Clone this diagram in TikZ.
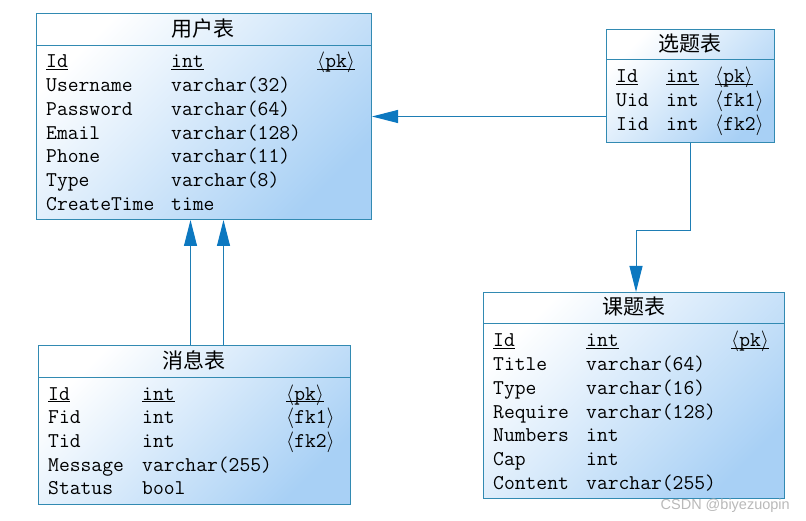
\documentclass[tikz,border=0pt]{standalone}
\usepackage{fontspec}
\newfontfamily\cjk{Noto Sans CJK SC}
\newfontfamily\wmfont{Liberation Sans}
\usetikzlibrary{arrows.meta}

\definecolor{erborder}{RGB}{50,138,178}
\definecolor{erfill}{RGB}{168,208,245}
\definecolor{erline}{RGB}{30,125,180}
\definecolor{erarrow}{RGB}{12,120,192}

\newcommand\keyul[1]{\underline{\smash{#1}}}
\newcommand\angtag[1]{$\langle$#1$\rangle$}

\tikzset{
  ertable/.style={draw=erborder, line width=1pt, top color=white, bottom color=erfill,
    shading angle=45, anchor=north west, inner sep=0},
  ersep/.style={draw=erborder, line width=1pt},
  erhead/.style={font=\cjk\fontsize{21}{21}\selectfont, inner sep=0},
  erfields/.style={anchor=base west, inner sep=0, font=\ttfamily\fontsize{21}{23.7}\selectfont},
  erlink/.style={draw=erline, line width=1pt, -{Triangle[length=26pt,width=13pt,fill=erarrow,color=erarrow]}}
}

\begin{document}
\begin{tikzpicture}[x=1pt,y=-1pt]
  \useasboundingbox (0,0) rectangle (806,521);

  % 用户表
  \node[ertable, minimum width=335, minimum height=206] (yonghu) at (36,13) {};
  \draw[ersep] ([yshift=-33pt]yonghu.north west) -- ([yshift=-33pt]yonghu.north east);
  \node[erhead] (yonghu-h) at (203,29) {用户表};
  \node[erfields] (yonghu-f) at (46,68) {\begin{tabular}[t]{@{}p{125pt}@{}p{146pt}@{}l@{}}
    \keyul{Id} & \keyul{int} & \keyul{\angtag{pk}}\\
    Username & varchar(32) & \\
    Password & varchar(64) & \\
    Email & varchar(128) & \\
    Phone & varchar(11) & \\
    Type & varchar(8) & \\
    CreateTime & time &
  \end{tabular}};

  % 选题表
  \node[ertable, minimum width=168, minimum height=113] (xuanti) at (606,29) {};
  \draw[ersep] ([yshift=-31pt]xuanti.north west) -- ([yshift=-31pt]xuanti.north east);
  \node[erhead] (xuanti-h) at (690,44) {选题表};
  \node[erfields] (xuanti-f) at (616,83) {\begin{tabular}[t]{@{}p{50pt}@{}p{49pt}@{}l@{}}
    \keyul{Id} & \keyul{int} & \keyul{\angtag{pk}}\\
    Uid & int & \angtag{fk1}\\
    Iid & int & \angtag{fk2}
  \end{tabular}};

  % 消息表
  \node[ertable, minimum width=312, minimum height=159] (xiaoxi) at (38,345) {};
  \draw[ersep] ([yshift=-32pt]xiaoxi.north west) -- ([yshift=-32pt]xiaoxi.north east);
  \node[erhead] (xiaoxi-h) at (194,360) {消息表};
  \node[erfields] (xiaoxi-f) at (48,400) {\begin{tabular}[t]{@{}p{94pt}@{}p{144pt}@{}l@{}}
    \keyul{Id} & \keyul{int} & \keyul{\angtag{pk}}\\
    Fid & int & \angtag{fk1}\\
    Tid & int & \angtag{fk2}\\
    Message & varchar(255) & \\
    Status & bool &
  \end{tabular}};

  % 课题表
  \node[ertable, minimum width=301, minimum height=206] (keti) at (483,292) {};
  \draw[ersep] ([yshift=-32pt]keti.north west) -- ([yshift=-32pt]keti.north east);
  \node[erhead] (keti-h) at (634,307) {课题表};
  \node[erfields] (keti-f) at (493,347) {\begin{tabular}[t]{@{}p{93pt}@{}p{145pt}@{}l@{}}
    \keyul{Id} & \keyul{int} & \keyul{\angtag{pk}}\\
    Title & varchar(64) & \\
    Type & varchar(16) & \\
    Require & varchar(128) & \\
    Numbers & int & \\
    Cap & int & \\
    Content & varchar(255) &
  \end{tabular}};

  % links
  \draw[erlink] (xuanti.west |- yonghu.east) -- (yonghu.east);
  \draw[erlink] ([xshift=-4pt]xiaoxi.north) -- ([xshift=-4pt]xiaoxi.north |- yonghu.south);
  \draw[erlink] ([xshift=29pt]xiaoxi.north) -- ([xshift=29pt]xiaoxi.north |- yonghu.south);
  \draw[erlink] (xuanti.south) -- ++(0,88) -| ([xshift=2pt]keti.north);

  \node[anchor=base east, inner sep=0, text=gray!55, font=\wmfont\fontsize{14.5}{14.5}\selectfont] (wm) at (790,509) {CSDN @biyezuopin};
\end{tikzpicture}
\end{document}
